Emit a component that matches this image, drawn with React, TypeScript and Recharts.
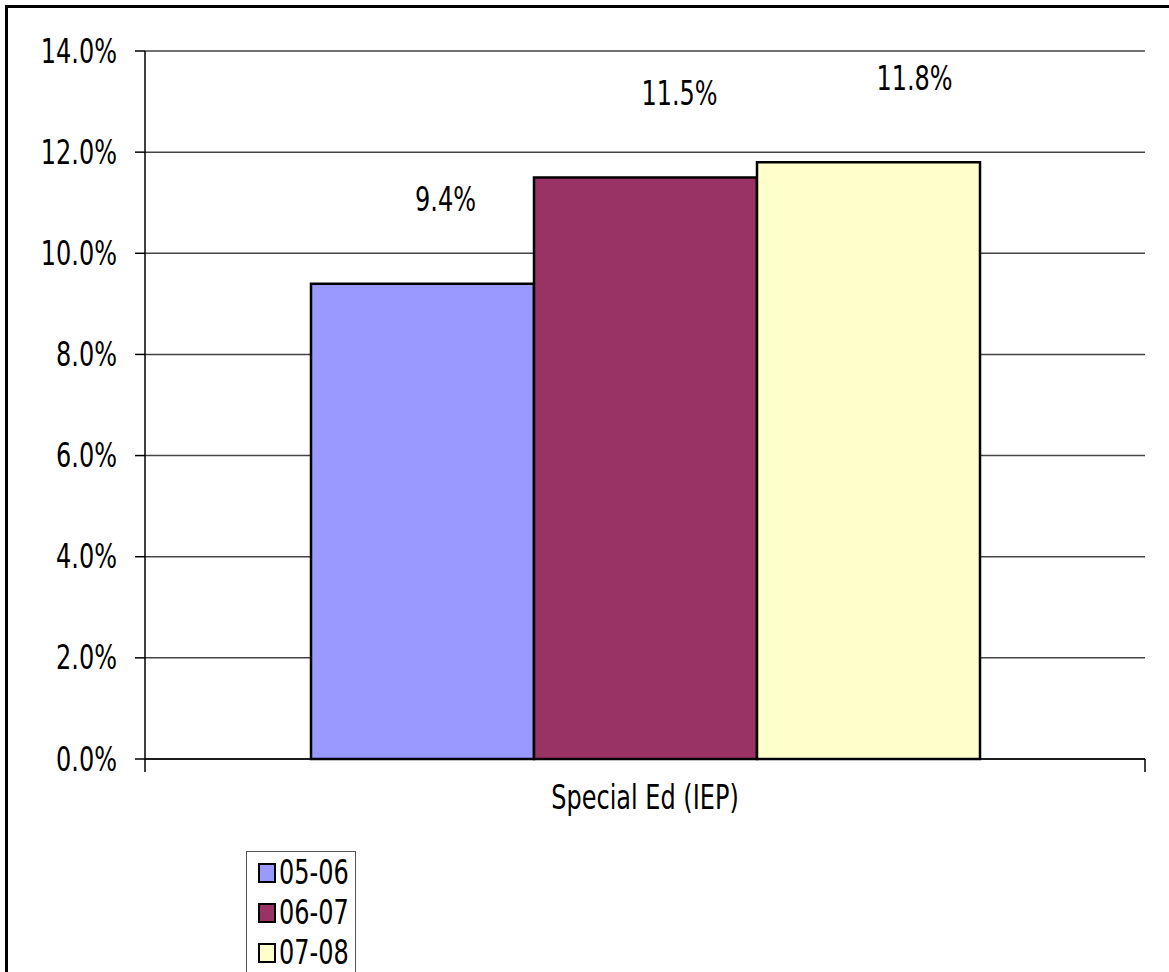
import React from "react";
import { BarChart, Bar, XAxis, YAxis, CartesianGrid, Legend, LabelList } from "recharts";

const categories = ["Special Ed (IEP)"];
const seriesNames = ["05-06", "06-07", "07-08"];
const seriesValues = [[9.4], [11.5], [11.8]];
const seriesColors = ["#9999FF", "#993366", "#FFFFCC"];
const yTicks = [0, 2, 4, 6, 8, 10, 12, 14];
// Excel put the data labels off to the right of each bar
const labelShift = [23, 34, 46];

const data = categories.map((name, i) => {
  const row: Record<string, string | number> = { name };
  seriesNames.forEach((s, j) => {
    row[s] = seriesValues[j][i];
  });
  return row;
});

const FONT = "'DejaVu Sans', Verdana, sans-serif";

const StretchText = ({ x, y, anchor, children }: any) => (
  <text
    transform={`translate(${x},${y}) scale(1,1.4)`}
    textAnchor={anchor}
    dominantBaseline="central"
    fontFamily={FONT}
    fontSize={24}
    fill="#000"
  >
    {children}
  </text>
);

const YTick = (props: any) => (
  <StretchText x={props.x} y={props.y} anchor="end">
    {Number(props.payload.value).toFixed(1)}%
  </StretchText>
);

// category label plus Excel-style tick marks on the category boundaries
const CatTick = (props: any) => {
  const { x, y, payload, width, visibleTicksCount } = props;
  const half = payload.offset || width / (visibleTicksCount || 1) / 2;
  return (
    <g>
      <line x1={x - half} x2={x - half} y1={y} y2={y + 13} stroke="#000" strokeWidth={1.5} />
      <line x1={x + half} x2={x + half} y1={y} y2={y + 13} stroke="#000" strokeWidth={1.5} />
      <StretchText x={x} y={y + 38} anchor="middle">
        {payload.value}
      </StretchText>
    </g>
  );
};

const valueLabel = (dx: number) => (props: any) => {
  const { x, y, width, value } = props;
  return (
    <StretchText x={x + width / 2 + dx} y={y - 84} anchor="middle">
      {Number(value).toFixed(1)}%
    </StretchText>
  );
};

const LegendBox = () => (
  <div
    style={{
      border: "1.5px solid #555",
      width: 110,
      height: 140,
      background: "#fff",
      boxSizing: "border-box",
      paddingTop: 1,
    }}
  >
    {seriesNames.map((s, i) => (
      <div key={s} style={{ display: "flex", alignItems: "center", height: 40, paddingLeft: 11 }}>
        <span
          style={{
            display: "inline-block",
            width: 14,
            height: 16,
            background: seriesColors[i],
            border: "2px solid #000",
            marginRight: 3,
          }}
        />
        <span
          style={{
            display: "inline-block",
            fontFamily: FONT,
            fontSize: 24,
            transform: "scale(1,1.4)",
            color: "#000",
            lineHeight: "24px",
          }}
        >
          {s}
        </span>
      </div>
    ))}
  </div>
);

export default function App() {
  return (
    <div
      style={{
        position: "absolute",
        left: 0,
        top: 0,
        width: 1169,
        height: 972,
        overflow: "hidden",
        background: "#fff",
      }}
    >
      <div
        style={{
          position: "absolute",
          left: 5,
          top: 5,
          width: 1300,
          height: 1100,
          border: "3px solid #000",
        }}
      />
      <BarChart
        width={1169}
        height={972}
        data={data}
        margin={{ top: 51, right: 24, left: 0, bottom: 153 }}
        barCategoryGap="16.6%"
        barGap={0}
      >
        <CartesianGrid vertical={false} stroke="#444" strokeWidth={1.5} />
        <XAxis
          dataKey="name"
          height={60}
          tickLine={false}
          tickSize={0}
          tickMargin={0}
          axisLine={{ stroke: "#000", strokeWidth: 1.5 }}
          tick={<CatTick />}
        />
        <YAxis
          width={145}
          domain={[0, 14]}
          ticks={yTicks}
          interval={0}
          tickSize={10}
          tickMargin={18}
          tickLine={{ stroke: "#000", strokeWidth: 1.5 }}
          axisLine={{ stroke: "#000", strokeWidth: 1.5 }}
          tick={<YTick />}
        />
        <Legend
          layout="vertical"
          align="center"
          verticalAlign="middle"
          wrapperStyle={{ left: 246, top: 851, width: 113, height: 140 }}
          content={<LegendBox />}
        />
        {seriesNames.map((s, i) => (
          <Bar
            key={s}
            dataKey={s}
            fill={seriesColors[i]}
            stroke="#000"
            strokeWidth={2.5}
            isAnimationActive={false}
          >
            <LabelList dataKey={s} content={valueLabel(labelShift[i])} />
          </Bar>
        ))}
      </BarChart>
    </div>
  );
}
